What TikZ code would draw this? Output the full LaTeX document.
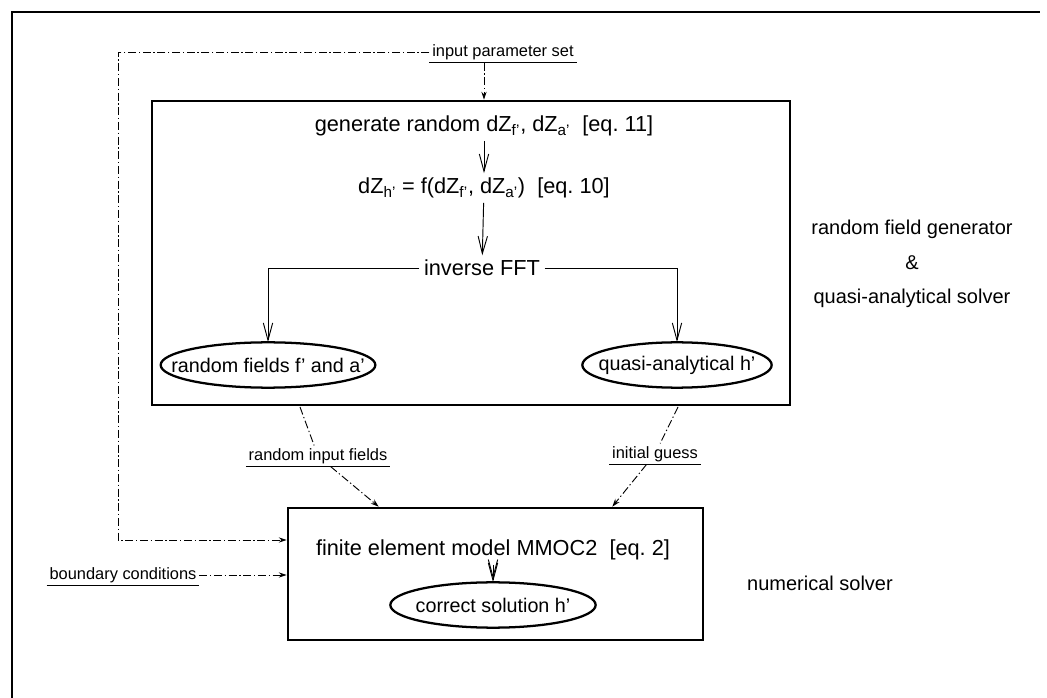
\documentclass[tikz,border=0pt]{standalone}
\usepackage{fontspec}
\setmainfont{Liberation Sans}
\usetikzlibrary{arrows.meta}

\tikzset{
  mainfont/.style={font=\fontsize{16.3}{19}\selectfont},
  sidefont/.style={font=\fontsize{15}{18}\selectfont},
  smallfont/.style={font=\fontsize{12.3}{14}\selectfont},
  blockbox/.style={draw,line width=2pt,inner sep=0pt},
  ovaltext/.style={font=\fontsize{14.8}{17}\selectfont,inner xsep=0pt,minimum height=34pt},
  ovalline/.style={line width=1.7pt},
  flow/.style={line width=0.7pt,-{Straight Barb[length=13pt,width=7pt]}},
  ddline/.style={line width=0.7pt,dash pattern=on 6pt off 2pt on 1pt off 2pt},
  ddarrow/.style={ddline,-{Stealth[length=6pt,width=4pt]}},
  ulabel/.style={smallfont,inner sep=2pt},
}

\begin{document}
\begin{tikzpicture}[x=0.75pt,y=-0.75pt]
\useasboundingbox (0,0) rectangle (1047,698);
% frame (top and left edge only)
\draw[line width=2pt] (12,698) -- (12,12) -- (1040,12);

% random field generator block
\node[blockbox,minimum width=478.5pt,minimum height=228pt] (rfg) at (471,253) {};
\node[mainfont] (gen) at (484,126) {generate random dZ\textsubscript{f'}, dZ\textsubscript{a'}\ \ [eq.~11]};
\node[mainfont] (dzh) at (484,188) {dZ\textsubscript{h'} = f(dZ\textsubscript{f'}, dZ\textsubscript{a'})\ \ [eq.~10]};
\node[mainfont] (fft) at (482,268) {inverse FFT};
\node[ovaltext] (rf) at (268,365) {random fields f' and a'};
\node[ovaltext] (qa) at (677,365) {quasi-analytical h'};

\draw[flow] (gen) -- (dzh);
\draw[flow] (dzh) -- (fft);
\draw[flow] (fft.west) -| (rf.north);
\draw[flow] (fft.east) -| (qa.north);

\node[sidefont,align=center] (rfglbl) at (912,264)
  {random field generator\\[8pt]\&\\[8pt]quasi-analytical solver};

% numerical solver block
\node[blockbox,minimum width=311.25pt,minimum height=99pt] (fem) at (495.5,574) {};
\node[mainfont] (fe) at (493,550) {finite element model MMOC2\ \ [eq.~2]};
\node[ovaltext] (cs) at (493,605) {correct solution h'};
\draw[flow] (fe) -- (cs);
\draw[flow,shorten >=2.5pt] (fe) -- (cs);
\node[sidefont] (ns) at (820,583) {numerical solver};

\foreach \n/\r in {rf/80.5pt,qa/71pt,cs/77pt}
  \draw[ovalline] (\n) ellipse [x radius=\r, y radius=17pt];

% inputs
\node[ulabel] (inp) at (503,52) {input parameter set};
\node[ulabel] (rif) at (318,456) {random input fields};
\node[ulabel] (ig) at (655,454) {initial guess};
\node[ulabel] (bc) at (123,575) {boundary conditions};
\foreach \n in {inp,rif,ig,bc}
  \draw[line width=0.7pt] (\n.south west) -- (\n.south east);

\coordinate (ipcorner) at (118,52);
\coordinate (rifa) at (300,407);
\coordinate (iga) at (678,407);

\draw[ddarrow] (inp.west) -- (ipcorner) |- ([yshift=25.5pt]fem.west);
\draw[ddarrow] (inp.south -| gen) -- (rfg.north -| gen);
\draw[ddarrow] (bc.east) -- (bc.east -| fem.west);
\draw[ddline] (rifa) -- (rif);
\draw[ddarrow] (rif) -- ([xshift=69pt]fem.north west);
\draw[ddline] (iga) -- (ig);
\draw[ddarrow] (ig) -- ([xshift=-69pt]fem.north east);
\end{tikzpicture}
\end{document}
